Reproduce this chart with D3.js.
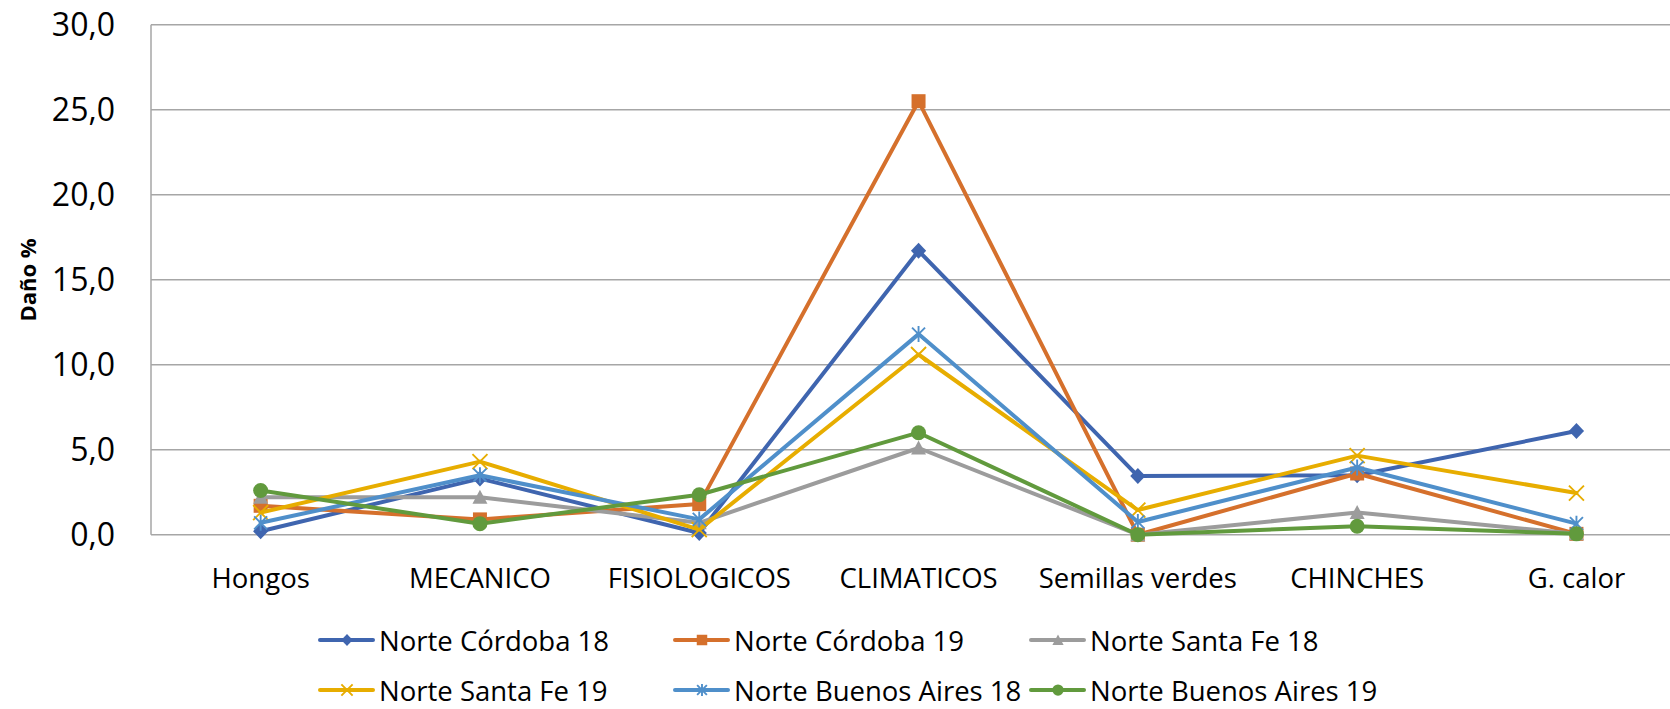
<!DOCTYPE html>
<html><head><meta charset="utf-8">
<script src="https://cdn.jsdelivr.net/npm/d3@7"></script>
<style>
html,body{margin:0;padding:0;background:#fff;}
svg{display:block;font-family:"Open Sans",sans-serif;}
</style></head>
<body>
<svg id="chart" width="1670" height="709"></svg>
<script>
const categories = ["Hongos","MECANICO","FISIOLOGICOS","CLIMATICOS","Semillas verdes","CHINCHES","G. calor"];
const seriesNames = ["Norte Córdoba 18","Norte Córdoba 19","Norte Santa Fe 18","Norte Santa Fe 19","Norte Buenos Aires 18","Norte Buenos Aires 19"];
const cordoba18 = [0.2, 3.3, 0.1, 16.7, 3.45, 3.5, 6.1];
const cordoba19 = [1.7, 0.9, 1.8, 25.5, 0.0, 3.6, 0.05];
const santaFe18 = [2.2, 2.2, 0.7, 5.1, 0.0, 1.3, 0.05];
const santaFe19 = [1.3, 4.3, 0.3, 10.6, 1.45, 4.65, 2.45];
const buenosAires18 = [0.7, 3.5, 0.9, 11.8, 0.75, 3.95, 0.65];
const buenosAires19 = [2.6, 0.65, 2.35, 6.0, 0.0, 0.5, 0.05];
const yTicks = [0, 5, 10, 15, 20, 25, 30];
const yTitle = "Daño %";

const seriesValues = [cordoba18, cordoba19, santaFe18, santaFe19, buenosAires18, buenosAires19];
const colors = ["#3F65AF","#D5702C","#9C9C9C","#E7AD00","#4F8FCA","#619A3D"];
const markers = ["diamond","square","triangle","x","star","circle"];

const svg = d3.select("#chart");
const left = 151, bandW = 219.3;
const x = d3.scaleBand().domain(categories).range([left, left + bandW*categories.length]).paddingInner(0).paddingOuter(0);
const y = d3.scaleLinear().domain([0, 30]).range([534.7, 24.7]);
const cx = c => x(c) + x.bandwidth()/2;

const locale = d3.formatLocale({decimal: ",", thousands: ".", grouping: [3], currency: ["", ""]});
const fmt = locale.format(".1f");

// gridlines
svg.append("g").selectAll("line").data(yTicks).join("line")
  .attr("x1", left).attr("x2", 1670)
  .attr("y1", d => y(d)).attr("y2", d => y(d))
  .attr("stroke", "#A6A6A6").attr("stroke-width", 1.5);
// left axis line
svg.append("line").attr("x1", left).attr("x2", left).attr("y1", y(30)).attr("y2", y(0))
  .attr("stroke", "#A6A6A6").attr("stroke-width", 1.5);

// y axis labels via d3 axis
const yAxis = d3.axisLeft(y).tickValues(yTicks).tickFormat(fmt).tickSize(0).tickPadding(36);
const yg = svg.append("g").attr("transform", `translate(${left},0)`).call(yAxis);
yg.select(".domain").remove();
yg.selectAll("text").attr("font-size", 32).attr("fill", "#000").attr("font-family", "Open Sans").attr("dy", "0.35em");

// x axis labels
const xAxis = d3.axisBottom(x).tickSize(0).tickPadding(34);
const xg = svg.append("g").attr("transform", `translate(0,${y(0)})`).call(xAxis);
xg.select(".domain").remove();
xg.selectAll("text").attr("font-size", 27.5).attr("fill", "#000").attr("font-family", "Open Sans");

// y title
svg.append("text").attr("transform", "translate(27,280) rotate(-90)")
  .attr("text-anchor", "middle").attr("dominant-baseline", "central")
  .attr("font-weight", "bold").attr("font-size", 22).attr("fill", "#000").text(yTitle);

function drawMarker(g, type, color, s) {
  const k = s;
  if (type === "diamond") {
    g.append("path").attr("d", `M0,${-8*k}L${7.6*k},0L0,${8*k}L${-7.6*k},0Z`).attr("fill", color);
  } else if (type === "square") {
    g.append("rect").attr("x", -7*k).attr("y", -7*k).attr("width", 14*k).attr("height", 14*k).attr("fill", color);
  } else if (type === "triangle") {
    g.append("path").attr("d", `M0,${-7.5*k}L${7.5*k},${6.5*k}L${-7.5*k},${6.5*k}Z`).attr("fill", color);
  } else if (type === "circle") {
    g.append("circle").attr("r", 7.5*k).attr("fill", color);
  } else if (type === "x") {
    g.append("path").attr("d", `M${-7.5*k},${-7.5*k}L${7.5*k},${7.5*k}M${7.5*k},${-7.5*k}L${-7.5*k},${7.5*k}`)
      .attr("stroke", color).attr("stroke-width", 1.9).attr("fill", "none");
  } else if (type === "star") {
    g.append("path").attr("d", `M${-6.5*k},${-6.5*k}L${6.5*k},${6.5*k}M${6.5*k},${-6.5*k}L${-6.5*k},${6.5*k}M0,${-8*k}L0,${8*k}`)
      .attr("stroke", color).attr("stroke-width", 1.9).attr("fill", "none");
  }
}

const line = d3.line().x((d, i) => cx(categories[i])).y(d => y(d));
seriesValues.forEach((vals, si) => {
  const g = svg.append("g");
  g.append("path").datum(vals).attr("d", line)
    .attr("fill", "none").attr("stroke", colors[si]).attr("stroke-width", 4)
    .attr("stroke-linejoin", "round").attr("stroke-linecap", "round");
  vals.forEach((v, i) => {
    const mg = g.append("g").attr("transform", `translate(${cx(categories[i])},${y(v)})`);
    drawMarker(mg, markers[si], colors[si], 1);
  });
});

// legend
const legX = [320, 675, 1031], legY = [640, 690];
seriesNames.forEach((name, i) => {
  const col = i % 3, row = Math.floor(i / 3);
  const g = svg.append("g").attr("transform", `translate(${legX[col]},${legY[row]})`);
  g.append("line").attr("x1", 0).attr("x2", 53).attr("y1", 0).attr("y2", 0)
    .attr("stroke", colors[i]).attr("stroke-width", 4).attr("stroke-linecap", "round");
  const mg = g.append("g").attr("transform", "translate(27,0)");
  drawMarker(mg, markers[i], colors[i], 0.75);
  g.append("text").attr("x", 59).attr("y", 0).attr("dominant-baseline", "central")
    .attr("font-size", 27.5).attr("fill", "#000").text(name);
});
</script>
</body></html>
